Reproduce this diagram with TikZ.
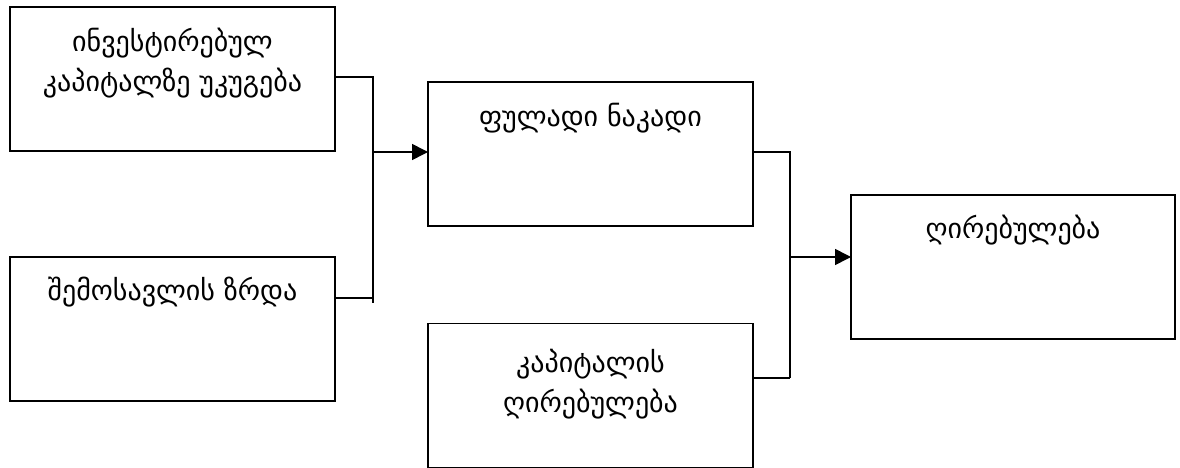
\documentclass[tikz,border=0pt]{standalone}
\usepackage{fontspec}
\setmainfont{DejaVu Sans}
\usetikzlibrary{arrows.meta,calc}
\tikzset{
  box/.style={draw=black, line width=1.6pt, rectangle, outer sep=0pt, inner sep=0pt,
              minimum width=325pt, minimum height=144pt},
  lbl/.style={align=center, font=\fontsize{28}{40}\selectfont, inner sep=0pt},
  conn/.style={draw=black, line width=1.6pt},
  arr/.style={conn, -{Triangle[length=16pt,width=16pt]}}
}
\begin{document}
\begin{tikzpicture}[x=1pt,y=-1pt]
\useasboundingbox (0,0) rectangle (1180,468);
% boxes (centres)
\node[box] (A) at (172.5,79) {};
\node[box] (B) at (172.5,329) {};
\node[box] (C) at (590.5,154) {};
\node[box] (D) at (590.5,395.5) {};
\node[box, minimum width=324pt] (E) at (1013,267) {};
% labels
\node[lbl] (tA) at (172.5,63) {ინვესტირებულ\\კაპიტალზე უკუგება};
\node[lbl] (tB) at (172.5,292) {შემოსავლის ზრდა};
\node[lbl] (tC) at (590.5,118) {ფულადი ნაკადი};
\node[lbl] (tD) at (590.5,384) {კაპიტალის\\ღირებულება};
\node[lbl] (tE) at (1013,230) {ღირებულება};
% junctions
\coordinate (j1) at (373,152);
\coordinate (j1t) at (373,77);
\coordinate (j1s) at (373,298);
\coordinate (j1b) at (373,303);
\coordinate (j2) at (790,257);
\coordinate (j2t) at (790,152);
\coordinate (j2s) at (790,378);
% connectors
\draw[conn] (A.east |- j1t) -- (j1t) -- (j1b);
\draw[conn] (B.east |- j1s) -- (j1s);
\draw[arr] (j1) -- (C.west |- j1);
\draw[conn] (C.east |- j2t) -- (j2t) -- (j2s);
\draw[conn] (D.east |- j2s) -- (j2s);
\draw[arr] (j2) -- (E.west |- j2);
\end{tikzpicture}
\end{document}
